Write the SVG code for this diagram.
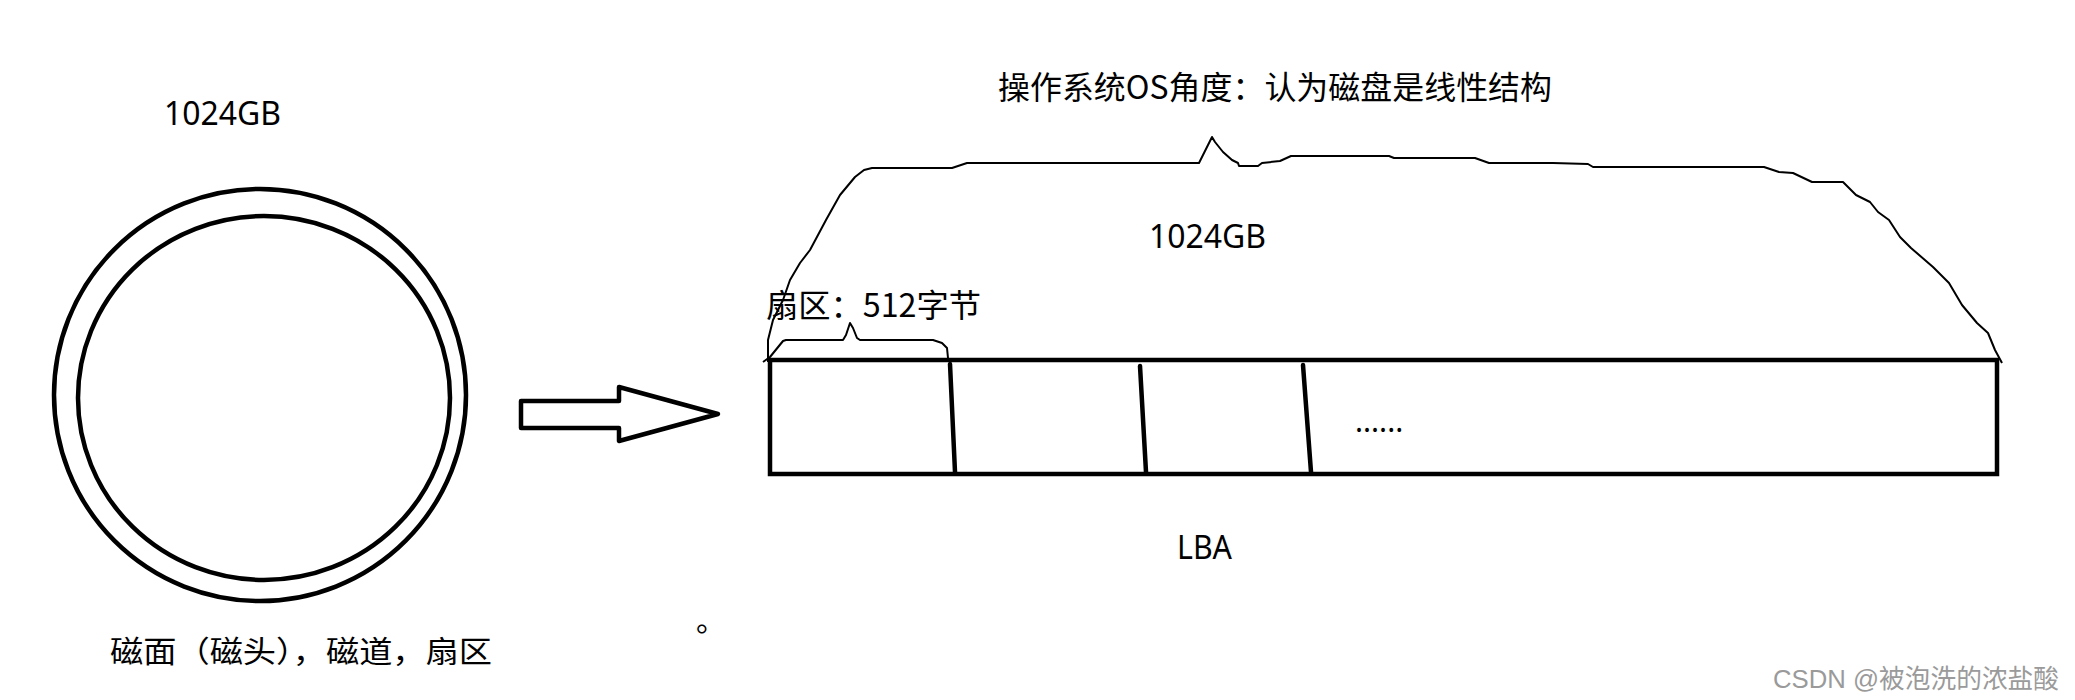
<svg xmlns="http://www.w3.org/2000/svg" width="2075" height="700" viewBox="0 0 2075 700">
<style>
.txt{font-family:"Noto Sans CJK SC","Noto Sans",sans-serif;fill:#000}
.lat{font-family:"Noto Sans","Noto Sans CJK SC",sans-serif;fill:#000}
.thick{fill:none;stroke:#000;stroke-width:4.5}
.thin{fill:none;stroke:#000;stroke-width:2;stroke-linejoin:round}
.div{stroke:#000;stroke-width:4.5;stroke-linecap:round}
.wm{font-family:"Liberation Sans","Noto Sans CJK SC",sans-serif;fill:#9a9a9a}
</style>
<rect width="2075" height="700" fill="#fff"/>
<g id="disk">
<ellipse class="thick" cx="260" cy="395" rx="206" ry="206"/>
<ellipse class="thick" cx="264" cy="398" rx="186" ry="182"/>
<text class="lat" x="164" y="125" font-size="33" textLength="117" lengthAdjust="spacingAndGlyphs">1024GB</text>
<text class="txt" x="110" y="662" font-size="30" textLength="382" lengthAdjust="spacingAndGlyphs">磁面（磁头），磁道，扇区</text>
</g>
<g id="arrow">
<polygon points="521,401 619,401 619,387 718,414 619,441 619,428 521,428" fill="#fff" stroke="#000" stroke-width="4.5" stroke-linejoin="round"/>
</g>
<g id="lba">
<rect class="thick" x="770" y="360" width="1227" height="114"/>
<line class="div" x1="950" y1="364" x2="955" y2="472"/>
<line class="div" x1="1140" y1="366" x2="1146" y2="472"/>
<line class="div" x1="1303" y1="365" x2="1311" y2="472"/>
<text class="lat" x="1355" y="431.5" font-size="30">......</text>
<text class="lat" x="1177" y="559" font-size="32" textLength="55" lengthAdjust="spacingAndGlyphs">LBA</text>
</g>
<g id="connectors">
<path class="thin" d="M768,362 L768,340 L773,320 L783,300 L790,280 L800,263 L810,250 L826,220 L840,195 L855,177 L864,170 L872,168 L952,168 L967,163 L1199,163 L1203,155 L1208,145 L1212,137 L1215,142 L1223,152 L1232,160 L1238,163 L1239,166 L1258,166 L1262,163 L1280,161 L1291,156 L1389,156 L1394,158 L1475,158 L1489,163 L1553,163 L1588,164 L1593,167 L1764,167 L1779,172 L1793,173 L1812,182 L1843,182 L1856,195 L1870,202 L1878,212 L1889,220 L1900,237 L1911,248 L1933,267 L1949,283 L1962,305 L1977,323 L1988,333 L1995,350 L2002,363"/>
<path class="thin" d="M763,362 L770,357 L783,341 L786,340 L843,340 L846,335 L850,323 L853,328 L857,338 L860,340 L933,340 L942,343 L947,348 L948,358"/>
</g>
<g id="labels">
<text class="txt" x="998" y="99" font-size="32" textLength="554" lengthAdjust="spacingAndGlyphs">操作系统OS角度：认为磁盘是线性结构</text>
<text class="lat" x="1149" y="248" font-size="33" textLength="117" lengthAdjust="spacingAndGlyphs">1024GB</text>
<text class="txt" x="766" y="316.5" font-size="32" textLength="215" lengthAdjust="spacingAndGlyphs">扇区：512字节</text>
<text class="txt" x="696" y="631" font-size="30">。</text>
</g>
<g id="watermark">
<text class="wm" x="1773" y="688" font-size="26" textLength="286" lengthAdjust="spacingAndGlyphs">CSDN @被泡洗的浓盐酸</text>
</g>
</svg>
